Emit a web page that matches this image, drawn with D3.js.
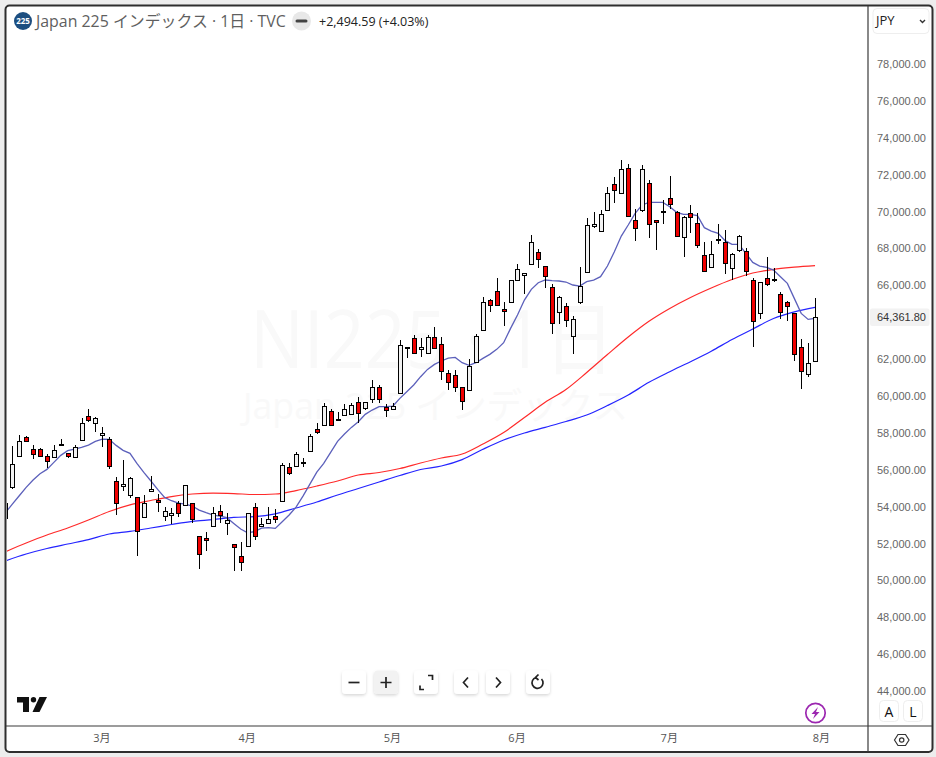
<!DOCTYPE html>
<html>
<head>
<meta charset="utf-8">
<script src="https://cdn.jsdelivr.net/npm/d3@7"></script>
<style>
  html, body { margin: 0; padding: 0; background: #ededed; }
  svg { display: block; }
  text { font-family: "Open Sans", "Noto Sans CJK JP", sans-serif; }
</style>
</head>
<body>
<svg id="chart"></svg>
<script>
// Daily candles (JPY)
const opens = [53450,55130,56790,57840,57190,57190,56810,56740,57430,56970,56740,57660,58980,58600,57930,57730,55450,55160,54680,54590,53480,54890,54440,53540,53610,54260,54130,54260,52470,52360,53000,53830,53210,52040,51390,51910,54040,53000,53160,53570,54350,56210,56250,56430,57080,58270,58490,59250,58790,59030,59090,59740,59410,59900,60550,59470,59360,60210,62720,63210,62610,62400,63260,62880,61310,61200,60550,60390,61910,63640,65270,65760,64780,65160,66350,66640,67220,67870,67110,65970,64620,64940,63320,65160,66790,69280,69010,70150,71560,71070,72430,69610,70150,71610,69610,70080,70800,70040,68690,69990,69450,67710,67060,68560,68420,67010,67980,67930,66350,64560,66460,66400,65590,65160,64560,62720,61260,61960];
const highs = [54260,57370,57970,57900,57420,57240,56940,57420,57730,57010,57410,58890,59380,58940,58400,57880,55670,56610,55670,54590,54710,55740,54770,54060,54010,54370,55240,54300,52470,52700,54060,54150,53720,52040,52150,53720,54280,53470,54060,53950,56430,56430,57030,56740,58020,58600,59720,59360,59210,59650,59680,60010,59740,60950,60660,59630,59680,63100,62720,63370,63210,63370,63810,63260,61470,61470,60550,62070,63430,65430,65320,66460,65160,66350,67240,66740,68800,68040,67110,66140,65490,65110,64400,67080,69720,70060,70150,71400,71940,72860,72650,70200,72590,71780,69610,70690,72000,70100,69830,70420,69990,68420,68470,69390,69070,67820,68790,68090,66460,66250,67600,67000,65700,65220,64560,63150,62940,65380];
const lows = [53450,55060,56790,57600,56670,56790,56180,56740,57370,56740,56740,57640,58650,58130,57330,56140,53630,54930,54570,51420,53480,54880,53790,53300,53140,53520,54130,53190,50700,51680,53000,53190,52540,50590,50590,51910,52290,52960,53160,53190,54350,55800,56210,56210,57060,58020,58490,58490,58760,59030,59030,58630,59300,59680,59680,58960,59300,60210,62160,62400,62210,62400,62630,60950,60420,60320,59340,60330,61870,63640,64660,65000,63900,65160,66300,65600,67220,67010,65920,63460,63970,63800,62380,65050,66790,69170,69010,70150,70570,71070,69820,68500,70040,68670,68020,69390,70200,68740,67640,68940,68090,66840,67060,68340,66720,66350,67870,66570,62760,64240,66030,66250,64240,64170,61960,60480,61090,61960];
const closes = [54260,56380,57620,57610,56900,56790,56520,57130,57460,56810,57300,58600,58740,58870,58060,56250,54240,55290,55620,52720,54260,55020,54350,53830,53720,53700,55240,53390,51490,52240,53720,53590,53370,51860,51040,53720,52470,53120,53390,53430,56320,55870,56920,56480,57890,58110,59520,58490,58820,59360,59570,59140,59740,60550,59900,59300,59520,62830,62670,62400,62720,63260,62670,61420,60820,60550,59790,61690,63320,65160,65000,65000,64670,66350,66950,66740,68420,67490,66570,64020,65430,64180,64240,66030,69340,69390,69930,71070,71240,72370,69820,69170,72370,69390,69500,70110,70480,68740,69770,69770,68250,66840,67760,68580,67280,67760,68740,66840,64130,66250,66140,66430,64620,64940,62340,61420,61867.21,64361.80];

// Short moving average, one reading per bar
const maShort = [53754,54224,54676,55128,55526,55870,56105,56484,56864,57117,57207,57298,57424,57623,57750,57732,57406,57135,56972,56430,55942,55490,55020,54586,54405,54278,54224,54116,53899,53754,53628,53573,53483,53176,52868,52669,52724,52922,52941,52904,53266,53628,54060,54657,55308,55959,56429,57026,57622,58020,58382,58689,59087,59322,59503,59503,59539,59955,60316,60678,61130,61527,61799,61980,62142,62178,61889,61745,61889,62124,62341,62612,62974,63751,64475,65288,65867,66228,66373,66337,66319,66265,66102,66046,66281,66372,66553,67131,67909,68758,69355,69988,70440,70584,70584,70584,70349,70042,69934,69934,69861,69210,69029,68903,68505,68306,68306,67818,67330,67131,67059,66914,66553,66191,65377,64564,64238,64293];

// Long moving averages, read every third bar
const maBars = d3.range(0, 118, 3);
const maRed = [51639,52111,52544,52924,53358,53819,54182,54416,54632,54768,54822,54795,54741,54768,54957,55202,55473,55798,55934,56151,56449,56720,56937,57479,58103,58916,59741,60435,61357,62333,63282,64133,64827,65424,65939,66400,66753,66953,67067,67149];
const maBlue = [51145,51514,51812,52056,52295,52599,52740,52924,53114,53287,53380,53504,53542,53694,54009,54334,54714,55066,55419,55771,56097,56286,56633,57192,57696,58076,58385,58700,59052,59567,60137,60825,61400,61942,62512,63146,63716,64285,64649,64893];

const priceTicks = d3.range(44000, 80000, 2000).filter(d => d !== 64000);
const monthBars = [14, 35, 56, 74, 96, 118];
const monthLabels = ["3月", "4月", "5月", "6月", "7月", "8月"];

const width = 936, height = 757;
const paneRight = 868, paneBottom = 726;

const svg = d3.select("#chart").attr("width", width).attr("height", height);

const x = d3.scaleLinear().domain([0, 117]).range([5.41, 815.05]);
const y = d3.scaleLinear().domain([44000, 78000]).range([692.6, 65.6]);

// Frame
svg.append("rect").attr("x", 5.5).attr("y", 5.5).attr("width", 927).attr("height", 746.5)
    .attr("rx", 4).attr("fill", "#fff").attr("stroke", "#2e2e2e").attr("stroke-width", 2);

svg.append("defs").append("clipPath").attr("id", "pane").append("rect")
    .attr("x", 7).attr("y", 7).attr("width", paneRight - 7).attr("height", paneBottom - 7);

// Watermark
svg.append("text").attr("x", 250).attr("y", 368).attr("textLength", 365).attr("lengthAdjust", "spacingAndGlyphs")
    .attr("font-size", 80).attr("fill", "#f9f9f9").text("NI225 · 1日");
svg.append("text").attr("x", 243).attr("y", 419).attr("textLength", 385).attr("lengthAdjust", "spacingAndGlyphs")
    .attr("font-size", 36).attr("fill", "#f9f9f9").text("Japan 225 インデックス");

const plot = svg.append("g").attr("clip-path", "url(#pane)");

// Moving averages
const line = d3.line().x(d => x(d[0])).y(d => y(d[1]));
const smooth = d3.line().x(d => x(d[0])).y(d => y(d[1])).curve(d3.curveMonotoneX);
plot.append("path").datum(maRed.map((v, i) => [maBars[i], v]))
    .attr("d", smooth).attr("fill", "none").attr("stroke", "#ff2a2a").attr("stroke-width", 1.2);
plot.append("path").datum(maBlue.map((v, i) => [maBars[i], v]))
    .attr("d", smooth).attr("fill", "none").attr("stroke", "#2424ff").attr("stroke-width", 1.2);
plot.append("path").datum(maShort.map((v, i) => [i, v]))
    .attr("d", line).attr("fill", "none").attr("stroke", "#5c60bb").attr("stroke-width", 1.3);

// Candles
const candles = plot.selectAll(".candle").data(opens.map((o, i) => i)).enter()
    .append("g").attr("class", "candle").attr("shape-rendering", "crispEdges");
candles.append("line")
    .attr("x1", i => Math.round(x(i)) + 0.5).attr("x2", i => Math.round(x(i)) + 0.5)
    .attr("y1", i => y(highs[i])).attr("y2", i => y(lows[i]))
    .attr("stroke", "#000");
candles.append("rect")
    .attr("x", i => Math.round(x(i)) - 1.5)
    .attr("width", 4)
    .attr("y", i => Math.round(y(Math.max(opens[i], closes[i]))) + 0.5)
    .attr("height", i => Math.max(1, Math.round(Math.abs(y(opens[i]) - y(closes[i])))))
    .attr("fill", i => closes[i] >= opens[i] ? "#f2f2f2" : "#f00000")
    .attr("stroke", "#000");

// Dividers
svg.append("line").attr("x1", paneRight).attr("x2", paneRight).attr("y1", 6).attr("y2", 752)
    .attr("stroke", "#3a3a3a").attr("stroke-width", 1.2);
svg.append("line").attr("x1", 6).attr("x2", 932).attr("y1", paneBottom).attr("y2", paneBottom)
    .attr("stroke", "#3a3a3a").attr("stroke-width", 1.2);

// Axes
const yAxis = svg.append("g").attr("transform", `translate(${paneRight}, -1.6)`)
    .call(d3.axisRight(y).tickValues(priceTicks).tickSize(0).tickPadding(9)
        .tickFormat(d => d3.format(",.2f")(d)));
yAxis.select(".domain").remove();
yAxis.selectAll("text").attr("font-size", 11).attr("fill", "#666")
    .style("font-family", "\"Liberation Sans\"");

const xAxis = svg.append("g").attr("transform", `translate(-1, ${paneBottom})`)
    .call(d3.axisBottom(x).tickValues(monthBars).tickSize(0).tickPadding(8)
        .tickFormat((d, i) => monthLabels[i]));
xAxis.select(".domain").remove();
xAxis.selectAll("text").attr("font-size", 11).attr("fill", "#555");

// Last price label
svg.append("rect").attr("x", 870).attr("y", 308.5).attr("width", 59.5).attr("height", 17.5)
    .attr("rx", 2).attr("fill", "#f2f2f2");
svg.append("text").attr("x", 877).attr("y", 321).attr("font-size", 11).attr("fill", "#333")
    .style("font-family", "\"Liberation Sans\"")
    .text(d3.format(",.2f")(closes[closes.length - 1]));

// Header
svg.append("circle").attr("cx", 23).attr("cy", 21).attr("r", 9).attr("fill", "#1c4e80");
svg.append("text").attr("x", 23).attr("y", 24).attr("text-anchor", "middle")
    .attr("font-size", 8).attr("font-weight", 700).attr("fill", "#fff").text("225");
svg.append("text").attr("x", 36).attr("y", 27).attr("font-size", 15.9).attr("fill", "#5f5f5f")
    .text("Japan 225 インデックス · 1日 · TVC");
svg.append("circle").attr("cx", 301.5).attr("cy", 21).attr("r", 9.5).attr("fill", "#e8e8e8");
svg.append("line").attr("x1", 297).attr("x2", 306).attr("y1", 21).attr("y2", 21)
    .attr("stroke", "#444").attr("stroke-width", 3).attr("stroke-linecap", "round");
svg.append("text").attr("x", 319).attr("y", 26).attr("font-size", 12.5).attr("fill", "#222")
    .text("+2,494.59 (+4.03%)");

// Currency box
svg.append("rect").attr("x", 873).attr("y", 8.5).attr("width", 56).attr("height", 25)
    .attr("rx", 4).attr("fill", "#fff").attr("stroke", "#eeeeee");
svg.append("text").attr("x", 876).attr("y", 25).attr("font-size", 13).attr("fill", "#222").text("JPY");
svg.append("path").attr("d", "M920 20 L922.5 22.5 L925 20").attr("fill", "none")
    .attr("stroke", "#333").attr("stroke-width", 1.4);

// Zoom buttons
const buttons = [
    { cx: 354, d: "M348.5 682.5 H359.5" },
    { cx: 386, d: "M380.5 682.5 H391.5 M386 677 V688", on: true },
    { cx: 426, d: "M420 685.5 V689.5 H424 M428 675.5 H432.5 V680" },
    { cx: 466, d: "M468 677.5 L463.5 682.5 L468 687.5" },
    { cx: 498, d: "M496 677.5 L500.5 682.5 L496 687.5" },
    { cx: 538, d: "M536 677.5 A5.5 5.5 0 1 0 541.5 679 M538.5 674.5 L535.5 677.5 L538.5 680" }
];
const filter = svg.select("defs").append("filter").attr("id", "soft")
    .attr("x", "-30%").attr("y", "-30%").attr("width", "160%").attr("height", "170%");
filter.append("feDropShadow").attr("dx", 0).attr("dy", 1.5).attr("stdDeviation", 1.8)
    .attr("flood-color", "#000").attr("flood-opacity", 0.16);
const btn = svg.selectAll(".btn").data(buttons).enter().append("g").attr("class", "btn");
btn.append("rect").attr("x", d => d.cx - 12).attr("y", 670.5).attr("width", 24).attr("height", 23.5)
    .attr("rx", 4).attr("fill", d => d.on ? "#f2f2f2" : "#fff").attr("filter", "url(#soft)");
btn.append("path").attr("d", d => d.d).attr("fill", "none")
    .attr("stroke", "#222").attr("stroke-width", 1.7);

// TradingView logo
svg.append("path").attr("fill", "#111")
    .attr("d", "M17 697 H29 V712 H23 V702.5 H17 Z M39.5 697 H47 L39.5 712 H32.5 Z");
svg.append("circle").attr("cx", 33.5).attr("cy", 699.7).attr("r", 2.7).attr("fill", "#111");

// Bolt icon
svg.append("circle").attr("cx", 815.5).attr("cy", 713).attr("r", 9.7)
    .attr("fill", "#fff").attr("stroke", "#9c27b0").attr("stroke-width", 1.7);
svg.append("path").attr("fill", "#9c27b0")
    .attr("d", "M818 707 L811.5 714 H815 L813 719 L819.5 712 H816 Z");

// Scale buttons
[["A", 889], ["L", 913]].forEach(([t, cx]) => {
    svg.append("rect").attr("x", cx - 9.5).attr("y", 700.5).attr("width", 19).attr("height", 21)
        .attr("rx", 4).attr("fill", "#fff").attr("stroke", "#eeeeee");
    svg.append("text").attr("x", cx).attr("y", 716.5).attr("text-anchor", "middle")
        .attr("font-size", 14).attr("fill", "#111").text(t);
});

// Settings hexagon
svg.append("path").attr("d", "M894.5 740 L898 734.5 H905.5 L909 740 L905.5 745.5 H898 Z")
    .attr("fill", "none").attr("stroke", "#333").attr("stroke-width", 1.2);
svg.append("circle").attr("cx", 901.7).attr("cy", 740).attr("r", 2.2)
    .attr("fill", "none").attr("stroke", "#333").attr("stroke-width", 1.2);
</script>
</body>
</html>
